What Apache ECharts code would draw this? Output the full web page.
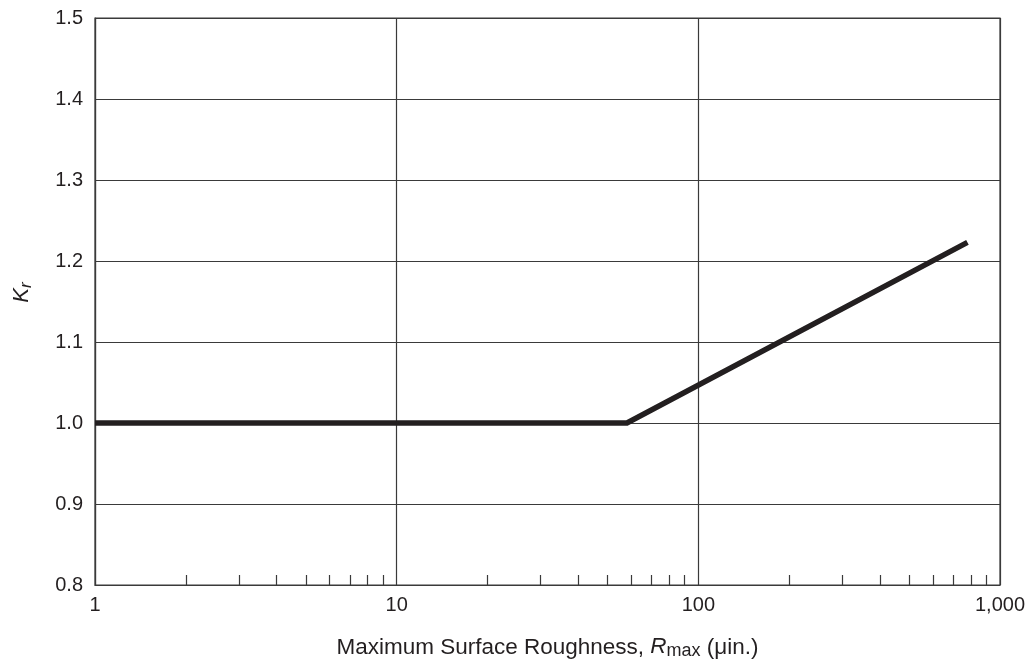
<!DOCTYPE html>
<html>
<head>
<meta charset="utf-8">
<script src="https://cdn.jsdelivr.net/npm/echarts@6/dist/echarts.min.js"></script>
<style>html,body{margin:0;padding:0;background:#fff}#c{width:1034px;height:663px}</style>
</head>
<body>
<div id="c"></div>
<script>
// Data
const roughness = [1, 58, 780];
const kr = [1.0, 1.0, 1.223];
const xMajorTicks = [1, 10, 100, 1000];
const xMinorTicks = [2,3,4,5,6,7,8,9,20,30,40,50,60,70,80,90,200,300,400,500,600,700,800,900];
const yMin = 0.8, yMax = 1.5, yStep = 0.1;

const ink = '#231f20';
const gridCol = '#3a3a3a';
const font = '"Liberation Sans", Arial, sans-serif';

const chart = echarts.init(document.getElementById('c'));
chart.setOption({
  animation: false,
  backgroundColor: '#fff',
  grid: { left: 95, right: 34, top: 18, bottom: 78, show: true, borderColor: gridCol, borderWidth: 1.2,
          containLabel: false, outerBoundsMode: 'none' },
  xAxis: [{
    type: 'log', logBase: 10, min: 1, max: 1000, position: 'bottom',
    axisLine: { show: true, lineStyle: { color: gridCol, width: 1.2 } },
    axisTick: { show: false },
    splitLine: { show: true, lineStyle: { color: gridCol, width: 1.2 } },
    minorTick: { show: false },
    axisLabel: {
      color: ink, fontSize: 20, fontFamily: font, margin: 10,
      formatter: v => Number(v).toLocaleString('en-US')
    },
    name: 'Maximum Surface Roughness, {i|R}{sub|max} (μin.)',
    nameLocation: 'middle', nameGap: 50,
    nameTextStyle: {
      color: ink, fontSize: 22.5, fontFamily: font, verticalAlign: 'top', lineHeight: 26,
      rich: {
        i: { fontStyle: 'italic', fontSize: 22.5, fontFamily: font, color: ink, verticalAlign: 'top', lineHeight: 26 },
        sub: { fontSize: 18, fontFamily: font, color: ink, verticalAlign: 'top', lineHeight: 26, padding: [7, 0, 0, 0] }
      }
    }
  }, {
    type: 'log', logBase: 10, min: 1, max: 1000, position: 'bottom',
    axisLine: { show: false },
    axisLabel: { show: false },
    splitLine: { show: false },
    axisTick: { show: true, inside: true, length: 10, customValues: xMinorTicks, lineStyle: { color: gridCol, width: 1.2 } }
  }],
  yAxis: {
    type: 'value', min: yMin, max: yMax, interval: yStep,
    axisLine: { show: true, lineStyle: { color: gridCol, width: 1.2 } },
    axisTick: { show: false },
    splitLine: { show: true, lineStyle: { color: gridCol, width: 1.2 } },
    axisLabel: { color: ink, fontSize: 20, fontFamily: font, margin: 12, formatter: v => Number(v).toFixed(1) },
    name: '{i|K}{sub|r}',
    nameLocation: 'middle', nameGap: 58, nameRotate: 90,
    nameTextStyle: {
      color: ink, fontSize: 22, fontFamily: font, lineHeight: 26, padding: [0, 0, 0, 18],
      rich: {
        i: { fontStyle: 'italic', fontSize: 22, fontFamily: font, color: ink, verticalAlign: 'top', lineHeight: 26 },
        sub: { fontStyle: 'italic', fontSize: 17, fontFamily: font, color: ink, verticalAlign: 'top', lineHeight: 26, padding: [7, 0, 0, 0] }
      }
    }
  },
  series: [{
    type: 'line', xAxisIndex: 0,
    data: roughness.map((x, i) => [x, kr[i]]),
    symbol: 'none', z: 10,
    lineStyle: { color: ink, width: 5.5, cap: 'butt', join: 'miter' }
  }]
});
</script>
</body>
</html>
